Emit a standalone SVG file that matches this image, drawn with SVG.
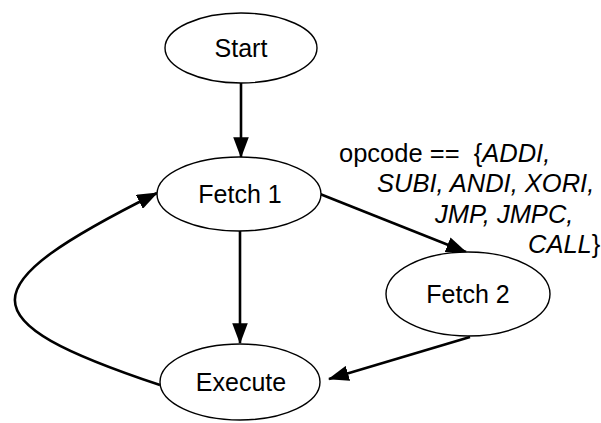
<svg xmlns="http://www.w3.org/2000/svg" width="601" height="423" viewBox="0 0 601 423">
<style>
.node ellipse{fill:#fff;stroke:#000;stroke-width:1.4}
text{font-family:"Liberation Sans",Arial,sans-serif;font-size:25px;fill:#000}
.lbl{text-anchor:middle}
.op{font-size:25.5px}
.edge{fill:none;stroke:#000;stroke-width:2.6;marker-end:url(#ah)}
.it{font-style:italic}
</style>
<defs>
<marker id="ah" markerWidth="8" markerHeight="6" refX="7.6" refY="3" orient="auto" markerUnits="strokeWidth">
<path d="M0,0 L8,3 L0,6 Z" fill="#000"/>
</marker>
</defs>
<g id="edges">
<path class="edge" d="M241,83 L241,157"/>
<path class="edge" d="M240,231 L240,343"/>
<path class="edge" d="M320,194 L466,252"/>
<path class="edge" d="M470,337 L329,379"/>
<path class="edge" d="M160,385 C-35,320 -31,287 157,193"/>
</g>
<g id="start" class="node"><ellipse cx="241" cy="48" rx="76" ry="35"/><text class="lbl" x="241" y="57">Start</text></g>
<g id="fetch1" class="node"><ellipse cx="239" cy="194" rx="82" ry="37"/><text class="lbl" x="240" y="203">Fetch 1</text></g>
<g id="fetch2" class="node"><ellipse cx="468" cy="294" rx="82" ry="42"/><text class="lbl" x="468" y="303">Fetch 2</text></g>
<g id="execute" class="node"><ellipse cx="240" cy="382" rx="80" ry="38"/><text class="lbl" x="241" y="391">Execute</text></g>
<g id="label">
<text class="op" x="339" y="162" xml:space="preserve">opcode ==  {<tspan class="it">ADDI,</tspan></text>
<text class="op it" x="377" y="192">SUBI, ANDI, XORI,</text>
<text class="op it" x="435" y="223">JMP, JMPC,</text>
<text class="op" x="528" y="253"><tspan class="it">CALL</tspan>}</text>
</g>
</svg>
